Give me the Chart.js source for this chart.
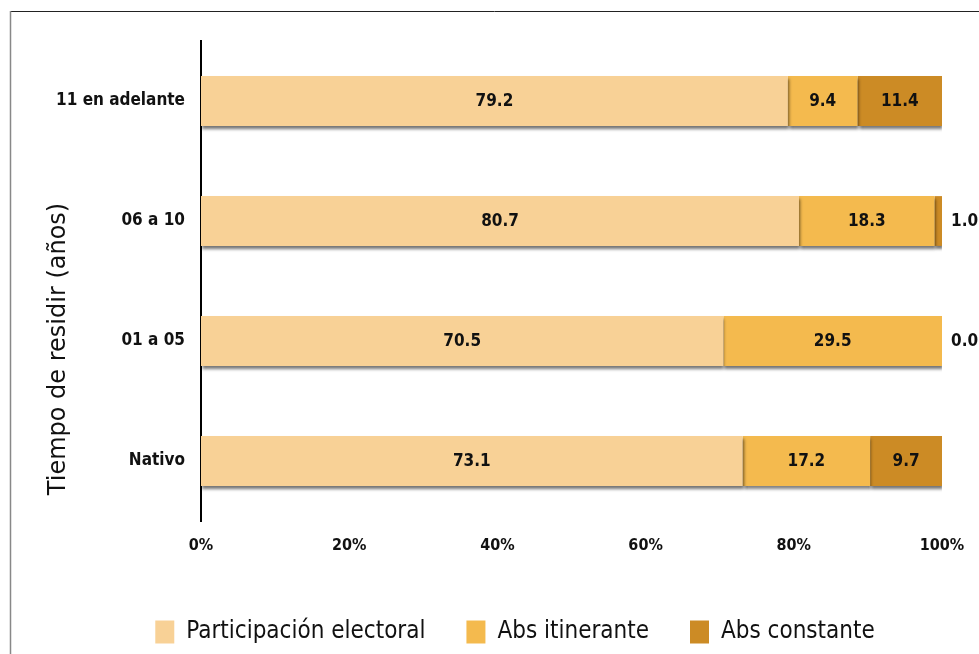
<!DOCTYPE html>
<html>
<head>
<meta charset="utf-8">
<script src="https://cdn.jsdelivr.net/npm/chart.js@4/dist/chart.umd.min.js"></script>
<style>
  html, body { margin: 0; padding: 0; background: #fff; }
  #wrap { width: 979px; height: 654px; position: relative; }
</style>
</head>
<body>
<div id="wrap"><canvas id="grafica" width="979" height="654"></canvas></div>
<script>
// Datos (porcentajes por tiempo de residir)
const categorias = ['11 en adelante', '06 a 10', '01 a 05', 'Nativo'];
const participacion = [79.2, 80.7, 70.5, 73.1];
const absItinerante = [9.4, 18.3, 29.5, 17.2];
const absConstante = [11.4, 1.0, 0.0, 9.7];
const ticksX = ['0%', '20%', '40%', '60%', '80%', '100%'];

const colores = ['#F8D196', '#F4BA4E', '#CC8B25'];
const fuente = '"DejaVu Sans Condensed", "DejaVu Sans"';
const padLeyenda = 41;
const abajo = 0;

// Marco del gráfico y título del eje Y
const marcoPlugin = {
  id: 'marco',
  afterLayout(chart) {
    // la leyenda del original está corrida a la derecha
    chart.legend.left += 44;
    chart.legend.right += 44;
  },
  beforeDraw(chart) {
    const ctx = chart.ctx;
    ctx.save();
    ctx.strokeStyle = '#222';
    ctx.lineWidth = 1;
    ctx.beginPath();
    ctx.moveTo(10, 11.5);
    ctx.lineTo(979, 11.5);
    ctx.stroke();
    ctx.strokeStyle = '#888';
    ctx.lineWidth = 1.5;
    ctx.beginPath();
    ctx.moveTo(10.5, 11);
    ctx.lineTo(10.5, 654);
    ctx.stroke();
    // título vertical
    ctx.translate(59, 349);
    ctx.rotate(-Math.PI / 2);
    ctx.fillStyle = '#111';
    ctx.font = '24px "DejaVu Sans"';
    ctx.textAlign = 'center';
    ctx.textBaseline = 'middle';
    ctx.fillText('Tiempo de residir (años)', 0, 0);
    ctx.restore();
  }
};

// Sombra bajo las barras
const sombraPlugin = {
  id: 'sombra',
  beforeDatasetsDraw(chart) {
    const ctx = chart.ctx;
    ctx.save();
    ctx.shadowColor = 'rgba(0,0,0,0.55)';
    ctx.shadowBlur = 3;
    ctx.shadowOffsetX = 1;
    ctx.shadowOffsetY = 3;
  },
  afterDatasetsDraw(chart) {
    chart.ctx.restore();
  }
};

// Etiquetas de valores
const etiquetasPlugin = {
  id: 'etiquetas',
  afterDatasetsDraw(chart) {
    const ctx = chart.ctx;
    const area = chart.chartArea;
    ctx.save();
    ctx.font = 'bold 17px ' + fuente;
    ctx.fillStyle = '#111';
    ctx.textBaseline = 'middle';
    chart.data.datasets.forEach((ds, i) => {
      const meta = chart.getDatasetMeta(i);
      meta.data.forEach((bar, j) => {
        const v = ds.data[j];
        const txt = v.toFixed(1);
        if (v >= 3) {
          ctx.textAlign = 'center';
          ctx.fillText(txt, (bar.x + bar.base) / 2, bar.y + 1);
        } else {
          ctx.textAlign = 'left';
          ctx.fillText(txt, area.right + 9, bar.y + 1);
        }
      });
    });
    ctx.restore();
  }
};

const ctx = document.getElementById('grafica').getContext('2d');
new Chart(ctx, {
  type: 'bar',
  data: {
    labels: categorias,
    datasets: [
      { label: 'Participación electoral', data: participacion, backgroundColor: colores[0] },
      { label: 'Abs itinerante', data: absItinerante, backgroundColor: colores[1] },
      { label: 'Abs constante', data: absConstante, backgroundColor: colores[2] }
    ]
  },
  options: {
    indexAxis: 'y',
    responsive: false,
    animation: false,
    devicePixelRatio: 1,
    barPercentage: 0.415,
    categoryPercentage: 1,
    layout: { padding: { top: 41, right: 37, left: 0, bottom: abajo } },
    scales: {
      x: {
        stacked: true,
        min: 0,
        max: 100,
        grid: { display: false },
        border: { display: false },
        ticks: {
          stepSize: 20,
          padding: 7,
          color: '#111',
          font: { family: fuente, size: 16, weight: 'bold' },
          callback: (v, i) => ticksX[i]
        },
        afterFit: (s) => { s.height = 654 - abajo - 521 - s.chart.legend.height; }
      },
      y: {
        stacked: true,
        grid: { display: false },
        border: { display: true, color: '#000', width: 2 },
        ticks: {
          padding: 8,
          color: '#111',
          font: { family: fuente, size: 17, weight: 'bold' }
        },
        afterFit: (s) => { s.width = 201; }
      }
    },
    plugins: {
      legend: {
        position: 'bottom',
        labels: {
          boxWidth: 19,
          boxHeight: 23,
          padding: padLeyenda,
          color: '#111',
          font: { family: fuente, size: 24 }
        }
      },
      tooltip: { enabled: false }
    }
  },
  plugins: [marcoPlugin, sombraPlugin, etiquetasPlugin]
});
</script>
</body>
</html>
